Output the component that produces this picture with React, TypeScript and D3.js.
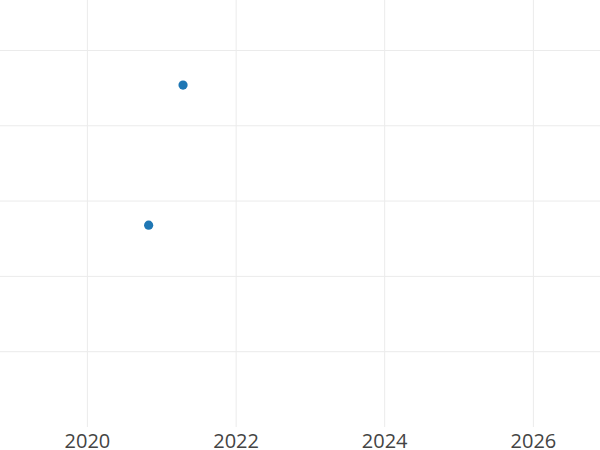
import React from "react";
import * as d3 from "d3";

const dates: string[] = ["2020-10-28", "2021-04-15"];
const values: number[] = [2.68, 4.54];
const xTickYears: number[] = [2020, 2022, 2024, 2026];
const yTicks: number[] = [1, 2, 3, 4, 5];

const W = 600;
const H = 450;
const plotBottom = 427;

export default function App() {
  const parse = d3.utcParse("%Y-%m-%d");
  const base = d3
    .scaleUtc()
    .domain([new Date(Date.UTC(2020, 0, 1)), new Date(Date.UTC(2026, 0, 1))])
    .range([87.4, 533.4]);
  const x = d3.scaleUtc().domain([base.invert(0), base.invert(W)]).range([0, W]);
  const y = d3.scaleLinear().domain([0, 5.67]).range([plotBottom, 0]);

  return (
    <svg
      width={W}
      height={H}
      style={{ position: "fixed", left: 0, top: 0, background: "#fff" }}
    >
      <rect x={0} y={0} width={W} height={H} fill="#fff" />
      <g>
        {yTicks.map((t) => (
          <line
            key={"y" + t}
            x1={0}
            x2={W}
            y1={y(t)}
            y2={y(t)}
            stroke="#ebebeb"
            strokeWidth={1}
          />
        ))}
        {xTickYears.map((yr) => {
          const px = x(new Date(Date.UTC(yr, 0, 1)));
          return (
            <line
              key={"x" + yr}
              x1={px}
              x2={px}
              y1={0}
              y2={plotBottom}
              stroke="#ebebeb"
              strokeWidth={1}
            />
          );
        })}
      </g>
      <g>
        {dates.map((d, i) => (
          <circle
            key={d}
            cx={x(parse(d) as Date)}
            cy={y(values[i])}
            r={4.6}
            fill="#1f77b4"
          />
        ))}
      </g>
      <g>
        {xTickYears.map((yr) => (
          <text
            key={"t" + yr}
            x={x(new Date(Date.UTC(yr, 0, 1)))}
            y={447.5}
            textAnchor="middle"
            fontFamily="'Open Sans', sans-serif"
            fontSize={20}
            fill="#444"
          >
            {String(yr)}
          </text>
        ))}
      </g>
    </svg>
  );
}
